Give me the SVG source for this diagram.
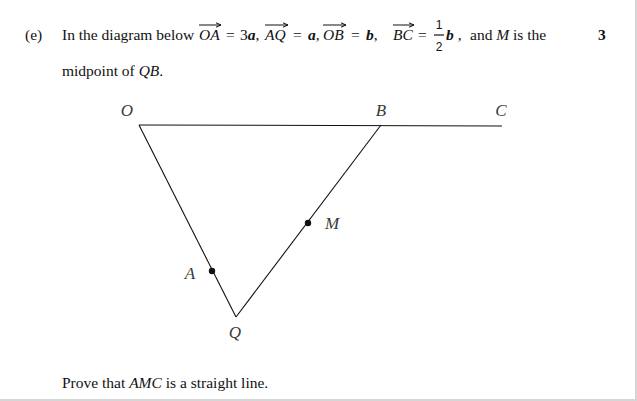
<svg xmlns="http://www.w3.org/2000/svg" width="637" height="401" viewBox="0 0 637 401">
<style>
.t{font-family:"Liberation Serif","Times New Roman",serif;font-size:15.5px;fill:#111}
.i{font-style:italic}
.bi{font-style:italic;font-weight:bold}
.lab{font-family:"Liberation Serif","Times New Roman",serif;font-style:italic;font-size:17px;fill:#3a3a3a}
.vec{stroke:#111;stroke-width:1;fill:none}
.ln{stroke:#111;stroke-width:1.1;fill:none}
</style>
<defs>
<marker id="ah" markerWidth="6" markerHeight="6" refX="5" refY="3" orient="auto" markerUnits="userSpaceOnUse">
<path d="M0,0.8 L5,3 L0,5.2" fill="none" stroke="#111" stroke-width="1"/>
</marker>
</defs>
<rect x="0" y="0" width="637" height="401" fill="#fff"/>
<rect x="635" y="0" width="2" height="401" fill="#d6d6d6"/>
<rect x="0" y="399" width="637" height="2" fill="#d6d6d6"/>

<g id="question-text">
<text class="t" x="25" y="40">(e)</text>
<text class="t" x="62" y="40">In the diagram below</text>
<text class="t i" x="199" y="40">OA</text>
<text class="t" x="226" y="40">=</text>
<text class="t" x="240" y="40">3<tspan class="bi">a</tspan>,</text>
<text class="t i" x="265" y="40">AQ</text>
<text class="t" x="293" y="40">=</text>
<text class="t" x="308" y="40"><tspan class="bi">a</tspan>,</text>
<text class="t i" x="323" y="40">OB</text>
<text class="t" x="351" y="40">=</text>
<text class="t" x="366" y="40"><tspan class="bi">b</tspan>,</text>
<text class="t i" x="393" y="40">BC</text>
<text class="t" x="418" y="40">=</text>
<text style="font-family:'Liberation Sans',Arial,sans-serif;font-size:12px;fill:#111" x="439" y="29" text-anchor="middle">1</text>
<line x1="434" y1="35" x2="444" y2="35" stroke="#111" stroke-width="1.2"/>
<text style="font-family:'Liberation Sans',Arial,sans-serif;font-size:12px;fill:#111" x="439" y="51" text-anchor="middle">2</text>
<text class="t" x="446" y="40"><tspan class="bi">b</tspan> ,</text>
<text class="t" x="470" y="40">and <tspan class="i">M</tspan> is the</text>
<text class="t" x="598" y="40" style="font-weight:bold">3</text>
<text class="t" x="62" y="76">midpoint of <tspan class="i">QB</tspan>.</text>
<text class="t" x="62" y="388">Prove that <tspan class="i">AMC</tspan> is a straight line.</text>
<line class="vec" x1="199" y1="25" x2="221" y2="25" marker-end="url(#ah)"/>
<line class="vec" x1="265" y1="25" x2="288" y2="25" marker-end="url(#ah)"/>
<line class="vec" x1="323" y1="25" x2="346" y2="25" marker-end="url(#ah)"/>
<line class="vec" x1="393" y1="25" x2="414" y2="25" marker-end="url(#ah)"/>
</g>

<g id="connectors">
<line class="ln" x1="139" y1="125" x2="502" y2="126"/>
<line class="ln" x1="139" y1="125" x2="236" y2="317"/>
<line class="ln" x1="236" y1="317" x2="381" y2="125"/>
</g>

<g id="node-O"><text class="lab" x="127" y="116" text-anchor="middle">O</text></g>
<g id="node-B"><text class="lab" x="381" y="116" text-anchor="middle">B</text></g>
<g id="node-C"><text class="lab" x="501" y="116" text-anchor="middle">C</text></g>
<g id="node-A"><circle cx="212" cy="271" r="3.2" fill="#111"/><text class="lab" x="190" y="279" text-anchor="middle">A</text></g>
<g id="node-M"><circle cx="308" cy="223" r="3.2" fill="#111"/><text class="lab" x="332" y="229" text-anchor="middle">M</text></g>
<g id="node-Q"><text class="lab" x="235" y="338" text-anchor="middle">Q</text></g>
</svg>
